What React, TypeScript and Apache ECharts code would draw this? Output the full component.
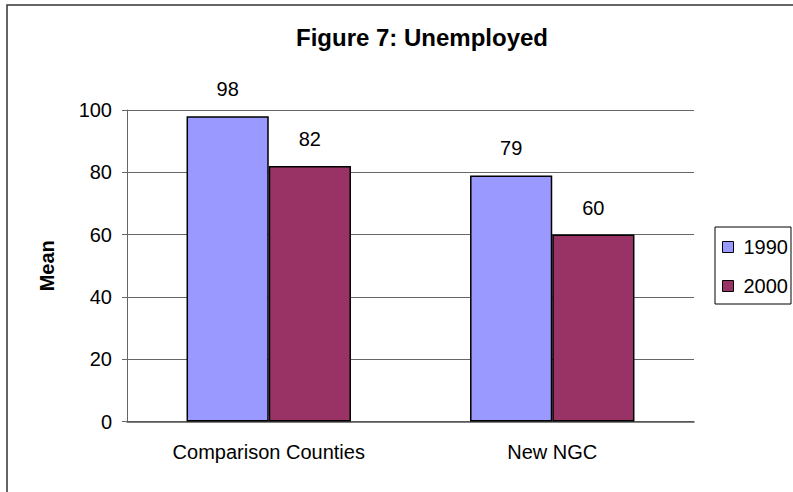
import React, { useEffect, useRef } from "react";
import * as echarts from "echarts";

const categories = ["Comparison Counties", "New NGC"];
const seriesNames = ["1990", "2000"];
const values1990 = [98, 79];
const values2000 = [82, 60];
const yTicks = { min: 0, max: 100, interval: 20 };

const FONT = 'Arial, "Liberation Sans", sans-serif';

export default function App() {
  const ref = useRef<HTMLDivElement>(null);
  useEffect(() => {
    document.body.style.margin = "0";
    const chart = echarts.init(ref.current!, null, { renderer: "svg" });
    const barLabel = {
      show: true,
      position: "top" as const,
      distance: 17,
      color: "#000",
      fontSize: 20,
      fontFamily: FONT,
    };
    chart.setOption({
      animation: false,
      backgroundColor: "#fff",
      title: {
        text: "Figure 7: Unemployed",
        left: 417,
        textAlign: "center",
        top: 20,
        textStyle: { fontSize: 24, fontWeight: "bold", color: "#000", fontFamily: FONT },
      },
      graphic: [
        {
          type: "rect",
          shape: { x: 7, y: 5, width: 900, height: 900 },
          style: { fill: "none", stroke: "#333", lineWidth: 1.5 },
          silent: true,
        },
      ],
      legend: {
        orient: "vertical",
        left: 715,
        top: 227,
        data: seriesNames,
        itemWidth: 11,
        itemHeight: 11,
        itemGap: 19,
        padding: [10, 3, 8, 7],
        borderColor: "#000",
        borderWidth: 1,
        icon: "rect",
        textStyle: { fontSize: 20, color: "#000", fontFamily: FONT, padding: [0, 0, 0, 5] },
        itemStyle: { borderColor: "#000", borderWidth: 1 },
      },
      grid: { left: 127, right: 99, top: 110, bottom: 70.5, containLabel: false },
      xAxis: {
        type: "category",
        data: categories,
        axisLine: { lineStyle: { color: "#555", width: 1.5 } },
        axisTick: { show: false },
        axisLabel: { fontSize: 20, color: "#000", fontFamily: FONT, margin: 20 },
      },
      yAxis: {
        type: "value",
        min: yTicks.min,
        max: yTicks.max,
        interval: yTicks.interval,
        name: "Mean",
        nameLocation: "middle",
        nameGap: 70,
        nameRotate: 90,
        nameTextStyle: { fontSize: 20, fontWeight: "bold", color: "#000", fontFamily: FONT },
        axisLine: { show: true, lineStyle: { color: "#666", width: 1 } },
        axisTick: { show: true, length: 5, lineStyle: { color: "#666" } },
        axisLabel: { fontSize: 20, color: "#000", fontFamily: FONT, margin: 15 },
        splitLine: { show: true, lineStyle: { color: "#666", width: 1 } },
      },
      series: [
        {
          name: seriesNames[0],
          type: "bar",
          data: values1990,
          barGap: "0%",
          barCategoryGap: "42%",
          itemStyle: { color: "#9999FF", borderColor: "#000", borderWidth: 1.5 },
          label: barLabel,
        },
        {
          name: seriesNames[1],
          type: "bar",
          data: values2000,
          itemStyle: { color: "#993366", borderColor: "#000", borderWidth: 1.5 },
          label: barLabel,
        },
      ],
    });
    return () => chart.dispose();
  }, []);
  return <div ref={ref} style={{ width: 793, height: 492 }} />;
}
